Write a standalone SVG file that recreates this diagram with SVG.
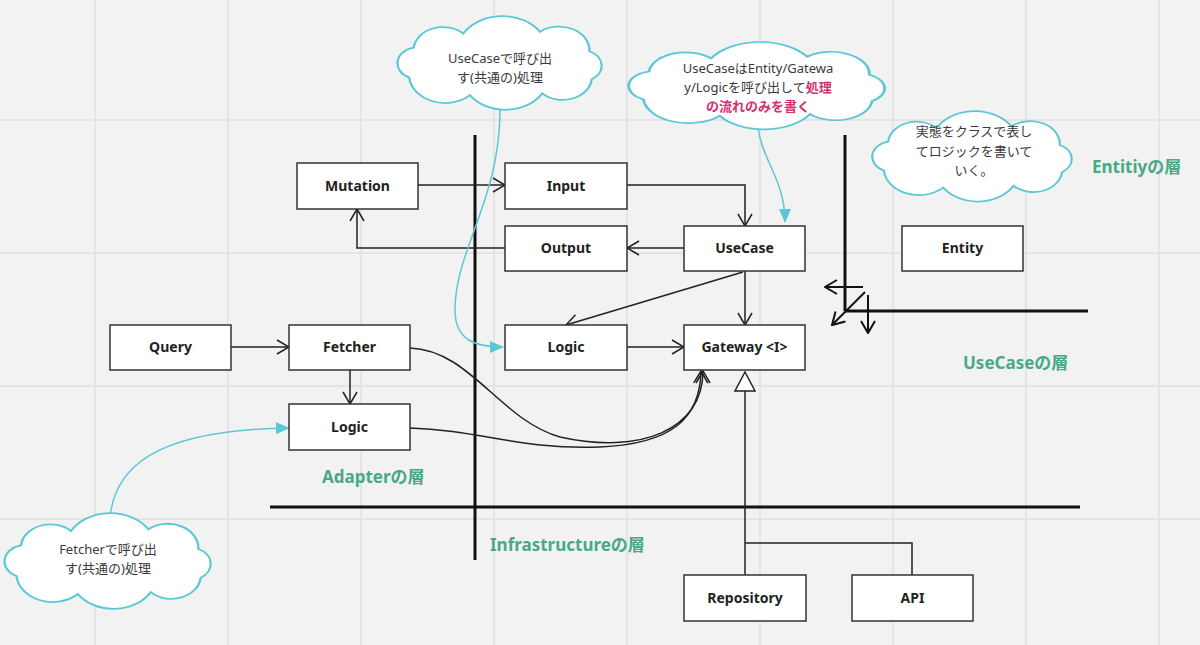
<svg xmlns="http://www.w3.org/2000/svg" width="1200" height="645" viewBox="0 0 1200 645">
<defs>
<style>
.grid{stroke:#e4e4e4;stroke-width:2}
.thick{stroke:#111;stroke-width:3;fill:none}
.box{fill:#fff;stroke:#333;stroke-width:1.5}
.lbl{font-family:"Noto Sans","Noto Sans CJK JP",sans-serif;font-weight:bold;font-size:14px;fill:#222;text-anchor:middle}
.conn{stroke:#222;stroke-width:1.5;fill:none}
.cyan{stroke:#5cc8d6;stroke-width:1.5;fill:none}
.cloud{fill:#fff;stroke:#5cc8d6;stroke-width:2}
.ct{font-family:"Noto Sans","Noto Sans CJK JP",sans-serif;font-size:13px;fill:#3a3a3a;text-anchor:middle}
.pink{fill:#d3306f;font-weight:bold}
.layer{font-family:"Noto Sans","Noto Sans CJK JP",sans-serif;font-weight:bold;font-size:17px;fill:#48a986}
</style>
<marker id="ar" markerUnits="userSpaceOnUse" markerWidth="14" markerHeight="16" viewBox="0 0 14 16" refX="13" refY="8" orient="auto">
<path d="M1,1 L13,8 L1,15" fill="none" stroke="#222" stroke-width="1.5"/>
</marker>
<marker id="ar2" markerUnits="userSpaceOnUse" markerWidth="14" markerHeight="16" viewBox="0 0 14 16" refX="13" refY="8" orient="auto">
<path d="M1,1 L13,8 L1,15" fill="none" stroke="#111" stroke-width="2"/>
</marker>
<marker id="car" markerUnits="userSpaceOnUse" markerWidth="14" markerHeight="12" viewBox="0 0 14 12" refX="13" refY="6" orient="auto">
<path d="M0,0 L14,6 L0,12 Z" fill="#5cc8d6"/>
</marker>
<path id="cloudp" d="M18,70 A18,18 0 0 1 22,36 A26,26 0 0 1 66,20 A40,40 0 0 1 134,18 A27,27 0 0 1 178,40 A18,18 0 0 1 180,72 A26,26 0 0 1 136,88 A38,38 0 0 1 72,90 A32,32 0 0 1 18,70 Z"/>
</defs>
<rect x="0" y="0" width="1200" height="645" fill="#f2f2f2"/>
<g id="grid">
<line class="grid" x1="95" y1="0" x2="95" y2="645"/>
<line class="grid" x1="228" y1="0" x2="228" y2="645"/>
<line class="grid" x1="361" y1="0" x2="361" y2="645"/>
<line class="grid" x1="494" y1="0" x2="494" y2="645"/>
<line class="grid" x1="627" y1="0" x2="627" y2="645"/>
<line class="grid" x1="760" y1="0" x2="760" y2="645"/>
<line class="grid" x1="893" y1="0" x2="893" y2="645"/>
<line class="grid" x1="1026" y1="0" x2="1026" y2="645"/>
<line class="grid" x1="1159" y1="0" x2="1159" y2="645"/>
<line class="grid" x1="0" y1="120" x2="1200" y2="120"/>
<line class="grid" x1="0" y1="253" x2="1200" y2="253"/>
<line class="grid" x1="0" y1="386" x2="1200" y2="386"/>
<line class="grid" x1="0" y1="519" x2="1200" y2="519"/>
</g>
<g id="layer-lines">
<line class="thick" x1="475" y1="135" x2="475" y2="560"/>
<line class="thick" x1="270" y1="507" x2="1080" y2="507"/>
<line class="thick" x1="845" y1="135" x2="845" y2="311"/>
<line class="thick" x1="845" y1="311" x2="1088" y2="311"/>
<line x1="863" y1="287" x2="825" y2="287" stroke="#111" stroke-width="2" marker-end="url(#ar2)"/>
<line x1="865" y1="292" x2="832" y2="325" stroke="#111" stroke-width="2" marker-end="url(#ar2)"/>
<line x1="868" y1="295" x2="868" y2="333" stroke="#111" stroke-width="2" marker-end="url(#ar2)"/>
</g>
<g id="connectors">
<path class="conn" d="M418,185 H505" marker-end="url(#ar)"/>
<path class="conn" d="M627,185 H745 V226" marker-end="url(#ar)"/>
<path class="conn" d="M684,248 H627" marker-end="url(#ar)"/>
<path class="conn" d="M505,248 H357 V209" marker-end="url(#ar)"/>
<path class="conn" d="M743,272 L566,325" marker-end="url(#ar)"/>
<path class="conn" d="M745,271 V325" marker-end="url(#ar)"/>
<path class="conn" d="M231,347 H289" marker-end="url(#ar)"/>
<path class="conn" d="M350,370 V404" marker-end="url(#ar)"/>
<path class="conn" d="M627,347 H684" marker-end="url(#ar)"/>
<path class="conn" d="M410,348 C470,350 500,420 560,437 C640,455 703,430 703,371" marker-end="url(#ar)"/>
<path class="conn" d="M410,428 C480,430 520,450 600,447 C670,444 700,420 701,371" marker-end="url(#ar)"/>
<path class="conn" d="M745,575 V391"/>
<path class="conn" d="M912,575 V543 H745"/>
<path d="M745,372 L735,391 L755,391 Z" fill="#fff" stroke="#222" stroke-width="1.5"/>
<path class="cyan" d="M500,110 C500,200 455,250 455,310 C455,340 475,347 503,347" marker-end="url(#car)"/>
<path class="cyan" d="M758,128 C762,160 785,180 785,222" marker-end="url(#car)"/>
<path class="cyan" d="M110,517 C115,470 150,430 289,428" marker-end="url(#car)"/>
</g>
<g id="mutation"><rect class="box" x="297" y="163" width="121" height="46"/><text class="lbl" x="357.5" y="191">Mutation</text></g>
<g id="input"><rect class="box" x="505" y="163" width="122" height="46"/><text class="lbl" x="566" y="191">Input</text></g>
<g id="output"><rect class="box" x="505" y="226" width="122" height="45"/><text class="lbl" x="566" y="253">Output</text></g>
<g id="usecase"><rect class="box" x="684" y="226" width="121" height="45"/><text class="lbl" x="744.5" y="253">UseCase</text></g>
<g id="entity"><rect class="box" x="902" y="226" width="121" height="45"/><text class="lbl" x="962.5" y="253">Entity</text></g>
<g id="query"><rect class="box" x="110" y="325" width="121" height="45"/><text class="lbl" x="170.5" y="352">Query</text></g>
<g id="fetcher"><rect class="box" x="289" y="325" width="121" height="45"/><text class="lbl" x="349.5" y="352">Fetcher</text></g>
<g id="logic-usecase"><rect class="box" x="505" y="325" width="122" height="45"/><text class="lbl" x="566" y="352">Logic</text></g>
<g id="gateway"><rect class="box" x="684" y="325" width="121" height="45"/><text class="lbl" x="744.5" y="352">Gateway &lt;I&gt;</text></g>
<g id="logic-adapter"><rect class="box" x="289" y="404" width="121" height="46"/><text class="lbl" x="349.5" y="432">Logic</text></g>
<g id="repository"><rect class="box" x="684" y="575" width="122" height="46"/><text class="lbl" x="745" y="603">Repository</text></g>
<g id="api"><rect class="box" x="852" y="575" width="121" height="46"/><text class="lbl" x="912.5" y="603">API</text></g>
<g id="cloud-usecase">
<use href="#cloudp" class="cloud" transform="translate(389,16) scale(1.126,0.88)"/>
<text class="ct" x="500" y="63">UseCaseで呼び出</text>
<text class="ct" x="500" y="82">す(共通の)処理</text>
</g>
<g id="cloud-gateway">
<use href="#cloudp" class="cloud" transform="translate(618,42) scale(1.412,0.82)"/>
<text class="ct" x="758" y="73">UseCaseはEntity/Gatewa</text>
<text class="ct" x="758" y="92">y/Logicを呼び出して<tspan class="pink">処理</tspan></text>
<text class="ct pink" x="758" y="111">の流れのみを書く</text>
</g>
<g id="cloud-entity">
<use href="#cloudp" class="cloud" transform="translate(864,111) scale(1.1,0.85)"/>
<text class="ct" x="974" y="136">実態をクラスで表し</text>
<text class="ct" x="974" y="156">てロジックを書いて</text>
<text class="ct" x="974" y="175">いく。</text>
</g>
<g id="cloud-fetcher">
<use href="#cloudp" class="cloud" transform="translate(-4,513) scale(1.137,0.9)"/>
<text class="ct" x="108" y="554">Fetcherで呼び出</text>
<text class="ct" x="108" y="573">す(共通の)処理</text>
</g>
<g id="layer-labels">
<text class="layer" x="1092" y="173">Entitiyの層</text>
<text class="layer" x="963" y="369">UseCaseの層</text>
<text class="layer" x="322" y="483">Adapterの層</text>
<text class="layer" x="490" y="551">Infrastructureの層</text>
</g>
</svg>
